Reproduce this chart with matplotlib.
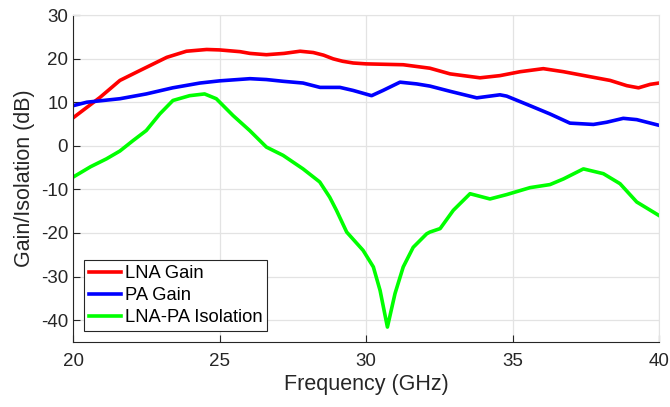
import matplotlib
matplotlib.use("Agg")
import matplotlib.pyplot as plt

# values
lna_freq = [20.0, 20.92, 21.6, 22.29, 23.2, 23.87, 24.56, 25.0, 25.7, 26.04, 26.6, 27.2,
            27.75, 28.2, 28.55, 28.88, 29.2, 29.56, 30.0, 31.27, 32.18, 32.87, 33.89,
            34.57, 35.26, 36.05, 36.74, 37.53, 38.33, 38.9, 39.3, 39.7, 40.0]
lna_gain = [6.4, 11.1, 15.0, 17.3, 20.3, 21.7, 22.1, 22.0, 21.6, 21.2, 20.9, 21.2,
            21.7, 21.4, 20.8, 19.95, 19.4, 19.0, 18.8, 18.6, 17.8, 16.5, 15.6,
            16.1, 17.0, 17.7, 17.0, 16.0, 15.0, 13.8, 13.3, 14.1, 14.4]

pa_freq = [20.0, 20.47, 21.6, 22.5, 23.4, 24.33, 25.0, 26.04, 26.6, 27.17, 27.85, 28.43,
           29.11, 29.56, 30.19, 30.58, 31.16, 31.73, 32.18, 32.87, 33.78, 34.57, 34.8,
           35.6, 36.28, 36.96, 37.76, 38.21, 38.78, 39.24, 40.0]
pa_gain = [9.2, 10.0, 10.8, 11.9, 13.3, 14.4, 14.9, 15.4, 15.2, 14.8, 14.4, 13.4,
           13.4, 12.7, 11.5, 12.7, 14.6, 14.2, 13.7, 12.5, 11.0, 11.7, 11.4,
           9.2, 7.3, 5.2, 4.9, 5.4, 6.3, 6.0, 4.7]

iso_freq = [20.0, 20.6, 21.14, 21.6, 22.05, 22.5, 22.96, 23.41, 23.98, 24.49, 24.89, 25.46,
            26.03, 26.6, 27.17, 27.85, 28.42, 28.76, 28.99, 29.34, 29.9, 30.25, 30.48,
            30.73, 30.99, 31.27, 31.61, 32.07, 32.18, 32.53, 32.98, 33.55, 34.23, 34.8,
            35.6, 36.28, 36.74, 37.42, 38.1, 38.67, 39.24, 40.0]
iso_db = [-7.2, -4.8, -3.0, -1.2, 1.2, 3.5, 7.3, 10.4, 11.5, 11.9, 10.8, 6.95,
          3.5, -0.3, -2.2, -5.3, -8.3, -11.8, -14.8, -19.8, -24.0, -27.8, -33.2,
          -41.6, -33.9, -27.8, -23.3, -20.2, -19.8, -19.0, -14.8, -11.0, -12.2, -11.2,
          -9.6, -8.9, -7.6, -5.3, -6.4, -8.7, -12.9, -16.0]

x_ticks = [20, 25, 30, 35, 40]
y_ticks = [-40, -30, -20, -10, 0, 10, 20, 30]

plt.rcParams['font.family'] = ['Liberation Sans', 'DejaVu Sans']
plt.rcParams['axes.unicode_minus'] = False

fig = plt.figure(figsize=(6.7, 4.07), dpi=100)
ax = fig.add_axes([0.109, 0.160, 0.8746, 0.803])

ax.plot(lna_freq, lna_gain, color='#ff0000', lw=2.6, label='LNA Gain')
ax.plot(pa_freq, pa_gain, color='#0000ff', lw=2.6, label='PA Gain')
ax.plot(iso_freq, iso_db, color='#00ff00', lw=2.6, label='LNA-PA Isolation')

ax.set_xlim(20, 40)
ax.set_ylim(-45, 30)
ax.set_xticks(x_ticks)
ax.set_yticks(y_ticks)
ax.grid(True, color='#e3e3e3', lw=0.9)
ax.set_axisbelow(True)

ax.tick_params(direction='in', length=5, width=0.8, colors='#262626', labelsize=13.5)
ax.tick_params(axis='x', pad=8)
for side in ['left', 'bottom']:
    ax.spines[side].set_color('#262626')
    ax.spines[side].set_linewidth(0.8)
for side in ['top', 'right']:
    ax.spines[side].set_color('#e3e3e3')

ax.set_xlabel('Frequency (GHz)', fontsize=15.5, color='#262626', labelpad=3)
ax.set_ylabel('Gain/Isolation (dB)', fontsize=15.5, color='#262626')

leg = ax.legend(loc='lower left', fontsize=13.2, frameon=True, fancybox=False,
                edgecolor='#262626', framealpha=1, handlelength=1.75, handletextpad=0.25,
                borderpad=0.25, labelspacing=0.28, borderaxespad=0.6)
leg.get_frame().set_linewidth(0.8)

fig.savefig('out.png', dpi=100)
